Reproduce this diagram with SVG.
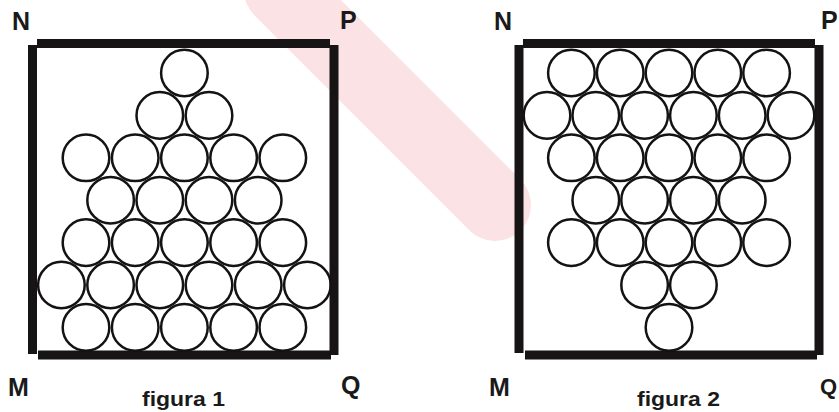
<svg xmlns="http://www.w3.org/2000/svg" width="839" height="412" viewBox="0 0 839 412">
<style>
.bg{fill:#ffffff}
.wm{fill:none;stroke:#fbe2e4;stroke-linecap:round}
.wall{stroke:#161414;stroke-width:9;fill:none}
.ball{fill:none;stroke:#141212;stroke-width:2.5}
.lbl{font-family:"Liberation Sans",Arial,sans-serif;font-weight:bold;font-size:25px;fill:#1a1a1a}
.cap{font-family:"Liberation Sans",Arial,sans-serif;font-weight:bold;font-size:20px;fill:#1a1a1a}
</style>
<rect class="bg" x="0" y="0" width="839" height="412"/>
<g id="watermark">
<path class="wm" d="M280,-10 L495,205" stroke-width="72"/>
</g>
<g id="figura1">
<g id="box1">
<line class="wall" x1="37" y1="43.5" x2="330" y2="43.5"/>
<line class="wall" x1="32.5" y1="45" x2="32.5" y2="354"/>
<line class="wall" x1="334" y1="45" x2="334" y2="355"/>
<line class="wall" x1="38" y1="355" x2="331" y2="355"/>
</g>
<g id="balls1">
<circle class="ball" cx="184.4" cy="73" r="23.3"/>
<circle class="ball" cx="159.8" cy="115.4" r="23.3"/>
<circle class="ball" cx="209" cy="115.4" r="23.3"/>
<circle class="ball" cx="86" cy="157.8" r="23.3"/>
<circle class="ball" cx="135.2" cy="157.8" r="23.3"/>
<circle class="ball" cx="184.4" cy="157.8" r="23.3"/>
<circle class="ball" cx="233.6" cy="157.8" r="23.3"/>
<circle class="ball" cx="282.8" cy="157.8" r="23.3"/>
<circle class="ball" cx="110.6" cy="200.2" r="23.3"/>
<circle class="ball" cx="159.8" cy="200.2" r="23.3"/>
<circle class="ball" cx="209" cy="200.2" r="23.3"/>
<circle class="ball" cx="258.2" cy="200.2" r="23.3"/>
<circle class="ball" cx="86" cy="242.6" r="23.3"/>
<circle class="ball" cx="135.2" cy="242.6" r="23.3"/>
<circle class="ball" cx="184.4" cy="242.6" r="23.3"/>
<circle class="ball" cx="233.6" cy="242.6" r="23.3"/>
<circle class="ball" cx="282.8" cy="242.6" r="23.3"/>
<circle class="ball" cx="61.4" cy="285" r="23.3"/>
<circle class="ball" cx="110.6" cy="285" r="23.3"/>
<circle class="ball" cx="159.8" cy="285" r="23.3"/>
<circle class="ball" cx="209" cy="285" r="23.3"/>
<circle class="ball" cx="258.2" cy="285" r="23.3"/>
<circle class="ball" cx="307.4" cy="285" r="23.3"/>
<circle class="ball" cx="86" cy="327.4" r="23.3"/>
<circle class="ball" cx="135.2" cy="327.4" r="23.3"/>
<circle class="ball" cx="184.4" cy="327.4" r="23.3"/>
<circle class="ball" cx="233.6" cy="327.4" r="23.3"/>
<circle class="ball" cx="282.8" cy="327.4" r="23.3"/>
</g>
<g id="labels1">
<text class="lbl" x="12" y="29.5">N</text>
<text class="lbl" x="340" y="29">P</text>
<text class="lbl" x="8" y="396">M</text>
<text class="lbl" x="341" y="394">Q</text>
<text class="cap" x="142" y="406" textLength="83" lengthAdjust="spacingAndGlyphs">figura 1</text>
</g>
</g>
<g id="figura2">
<g id="box2">
<line class="wall" x1="523" y1="43.5" x2="815" y2="43.5"/>
<line class="wall" x1="519" y1="45" x2="519" y2="353"/>
<line class="wall" x1="819" y1="45" x2="819" y2="355"/>
<line class="wall" x1="525" y1="355" x2="817" y2="355"/>
</g>
<g id="balls2">
<circle class="ball" cx="571.4" cy="73" r="23.3"/>
<circle class="ball" cx="620.2" cy="73" r="23.3"/>
<circle class="ball" cx="669" cy="73" r="23.3"/>
<circle class="ball" cx="717.8" cy="73" r="23.3"/>
<circle class="ball" cx="766.6" cy="73" r="23.3"/>
<circle class="ball" cx="547" cy="115.4" r="23.3"/>
<circle class="ball" cx="595.8" cy="115.4" r="23.3"/>
<circle class="ball" cx="644.6" cy="115.4" r="23.3"/>
<circle class="ball" cx="693.4" cy="115.4" r="23.3"/>
<circle class="ball" cx="742.2" cy="115.4" r="23.3"/>
<circle class="ball" cx="791" cy="115.4" r="23.3"/>
<circle class="ball" cx="571.4" cy="157.8" r="23.3"/>
<circle class="ball" cx="620.2" cy="157.8" r="23.3"/>
<circle class="ball" cx="669" cy="157.8" r="23.3"/>
<circle class="ball" cx="717.8" cy="157.8" r="23.3"/>
<circle class="ball" cx="766.6" cy="157.8" r="23.3"/>
<circle class="ball" cx="595.8" cy="200.2" r="23.3"/>
<circle class="ball" cx="644.6" cy="200.2" r="23.3"/>
<circle class="ball" cx="693.4" cy="200.2" r="23.3"/>
<circle class="ball" cx="742.2" cy="200.2" r="23.3"/>
<circle class="ball" cx="571.4" cy="242.6" r="23.3"/>
<circle class="ball" cx="620.2" cy="242.6" r="23.3"/>
<circle class="ball" cx="669" cy="242.6" r="23.3"/>
<circle class="ball" cx="717.8" cy="242.6" r="23.3"/>
<circle class="ball" cx="766.6" cy="242.6" r="23.3"/>
<circle class="ball" cx="644.6" cy="285" r="23.3"/>
<circle class="ball" cx="693.4" cy="285" r="23.3"/>
<circle class="ball" cx="669" cy="327.4" r="23.3"/>
</g>
<g id="labels2">
<text class="lbl" x="494" y="30">N</text>
<text class="lbl" x="821" y="29">P</text>
<text class="lbl" x="489" y="396">M</text>
<text class="lbl" x="820" y="394" style="font-size:22px">Q</text>
<text class="cap" x="637" y="406" textLength="83" lengthAdjust="spacingAndGlyphs">figura 2</text>
</g>
</g>
</svg>
